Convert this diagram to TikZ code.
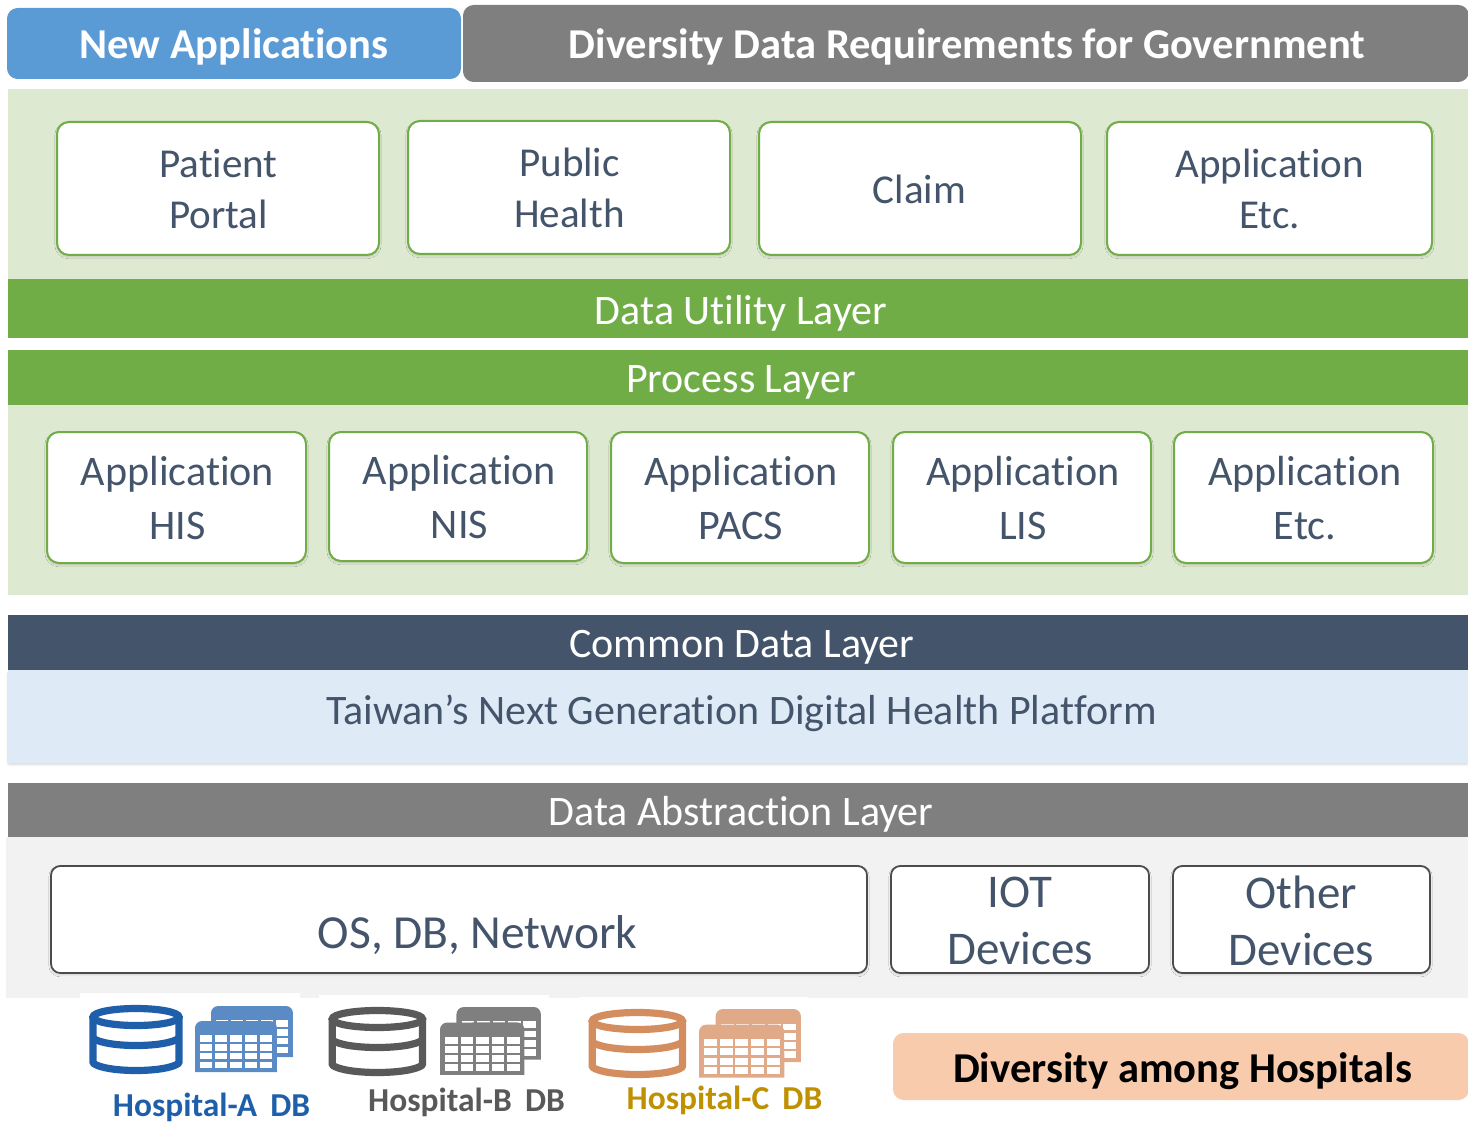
\documentclass[tikz,border=0pt]{standalone}
\usepackage{fontspec}
\setmainfont[Ligatures=NoCommon]{Carlito}
\usetikzlibrary{shadows.blur}

\definecolor{appblue}{HTML}{5B9BD5}
\definecolor{headgray}{HTML}{7F7F7F}
\definecolor{palegreen}{HTML}{DEE9D2}
\definecolor{layergreen}{HTML}{70AD47}
\definecolor{slate}{HTML}{44546A}
\definecolor{paleblue}{HTML}{DEEAF6}
\definecolor{palegray}{HTML}{F2F2F2}
\definecolor{peach}{HTML}{F8CBAD}
\definecolor{blueA}{HTML}{1F5FAA}
\definecolor{tableA}{HTML}{5B8BC4}
\definecolor{grayB}{HTML}{595959}
\definecolor{tableB}{HTML}{7F7F7F}
\definecolor{orangeC}{HTML}{D38D5F}
\definecolor{tableC}{HTML}{E0A987}
\definecolor{goldC}{HTML}{BF9000}

\tikzset{
	softshadow/.style={blur shadow={shadow xshift=0pt, shadow yshift=-1.2pt, shadow blur radius=1.6pt, shadow blur extra rounding=1pt, shadow blur steps=12, shadow opacity=16}},
	greenbox/.style={draw=layergreen, line width=1.5pt, fill=white, rounded corners=9pt, softshadow},
	darkbox/.style={draw=black!70, line width=1.3pt, fill=white, rounded corners=7pt, softshadow},
	headtext/.style={font=\bfseries\fontsize{31.9}{38}\selectfont},
	bandtext/.style={text=white, font=\fontsize{31.5}{38}\selectfont},
	boxtext/.style={text=slate, align=center, font=\fontsize{#1}{#1}\selectfont},
	boxtext/.default=30.8,
	dbtext/.style={font=\bfseries\fontsize{25.1}{30}\selectfont},
	pics/dbicon/.style={code={
		\draw[#1, line width=5.4pt, line join=round] (4,12) -- (4,59)
			.. controls (16,69) and (78,69) .. (90,59) -- (90,12);
		\draw[#1, line width=5.4pt] (47,13) ellipse (43 and 8.5);
		\draw[#1, line width=5.4pt] (4,34) .. controls (16,44) and (78,44) .. (90,34);
	}},
	pics/tableicon/.style={code={
		\foreach \ox/\oy in {16/0, 0/15} {
			\begin{scope}[shift={(\ox,\oy)}]
				\fill[#1] (0,51) -- (0,7) arc[start angle=180, end angle=90, radius=5.2pt]
					-- (75,0) arc[start angle=90, end angle=0, radius=5.2pt] -- (82,51) -- cycle;
				\foreach \c in {0,...,4}
					\foreach \r in {0,...,3}
						\fill[white] (5+\c*15,14+\r*8.9) rectangle ++(12.4,6.6);
			\end{scope}
		}
	}},
}

\begin{document}
\begin{tikzpicture}[x=0.75pt, y=-0.75pt]
	\useasboundingbox (0,0) rectangle (1468,1123);

	% header row
	\fill[appblue, rounded corners=8pt] (7,8) rectangle (461,79);
	\node[headtext, text=white] (newapps) at (234,47) {New Applications};
	\fill[headgray, rounded corners=8pt] (463,5) rectangle (1469,82);
	\node[headtext, text=white] (diversity) at (967,47) {Diversity Data Requirements for Government};

	% utility part
	\fill[palegreen] (8,89) rectangle (1468,279);
	\fill[layergreen] (8,279) rectangle (1468,338);
	\node[bandtext] (utility) at (741,313) {Data Utility Layer};
	\draw[greenbox] (57,122) rectangle (379,255);
	\node[boxtext] (patient) at (218.5,189) {Patient\\[7.4pt]Portal};
	\draw[greenbox] (408,121) rectangle (730,254);
	\node[boxtext] (public) at (569.5,188) {Public\\[7.4pt]Health};
	\draw[greenbox] (759,122) rectangle (1081,255);
	\node[boxtext] (claim) at (919.5,189) {Claim};
	\draw[greenbox] (1107,122) rectangle (1432,255);
	\node[boxtext] (appetcA) at (1269.5,189) {Application\\[7.4pt]Etc.};

	% process part
	\fill[layergreen] (8,350) rectangle (1468,405);
	\node[bandtext] (process) at (741,382) {Process Layer};
	\fill[palegreen] (8,405) rectangle (1468,595);
	\draw[greenbox] (47,432) rectangle (306,563);
	\node[boxtext=31.6] (his) at (177.5,498) {Application\\[9pt]HIS};
	\draw[greenbox] (329,432) rectangle (587,561);
	\node[boxtext=31.6] (nis) at (459.5,497) {Application\\[9pt]NIS};
	\draw[greenbox] (611,432) rectangle (869,563);
	\node[boxtext=31.6] (pacs) at (741,498) {Application\\[9pt]PACS};
	\draw[greenbox] (893,432) rectangle (1151,563);
	\node[boxtext=31.6] (lis) at (1023,498) {Application\\[9pt]LIS};
	\draw[greenbox] (1174,432) rectangle (1433,563);
	\node[boxtext=31.6] (appetcB) at (1305,498) {Application\\[9pt]Etc.};

	% common data layer
	\fill[paleblue, softshadow] (8,670) rectangle (1468,763);
	\fill[slate] (8,615) rectangle (1468,670);
	\node[bandtext] (common) at (742,647) {Common Data Layer};
	\node[boxtext=31.5] (platform) at (741.5,713) {Taiwan’s Next Generation Digital Health Platform};

	% abstraction layer
	\fill[palegray] (6,837) rectangle (1468,998);
	\fill[headgray] (8,783) rectangle (1468,837);
	\node[bandtext] (abstraction) at (741,814) {Data Abstraction Layer};
	\draw[darkbox] (51,866) rectangle (867,973);
	\node[boxtext=35.6] (osdb) at (477.5,935) {OS, DB, Network};
	\draw[darkbox] (891,866) rectangle (1149,973);
	\node[boxtext=35.2] (iot) at (1020,920.5) {IOT\\[7.6pt]Devices};
	\draw[darkbox] (1173,866) rectangle (1430,973);
	\node[boxtext=35.2] (other) at (1301.5,920.5) {Other\\[7.6pt]Devices};

	% hospitals
	\fill[white] (80,993) rectangle (300,1010);
	\fill[white] (319,995) rectangle (549,1010);
	\fill[white] (580,997) rectangle (808,1010);
	\pic at (89,1004) {dbicon=blueA};
	\pic at (195,1006) {tableicon=tableA};
	\node[dbtext, text=blueA] (hospA) at (211.5,1107) {Hospital-A\, DB};
	\pic[xscale=1.05] at (328,1006) {dbicon=grayB};
	\pic[scale=1.03] at (440,1007) {tableicon=tableB};
	\node[dbtext, text=grayB] (hospB) at (466.5,1102) {Hospital-B\, DB};
	\pic[xscale=1.05] at (588,1008) {dbicon=orangeC};
	\pic[scale=1.04] at (699,1009) {tableicon=tableC};
	\node[dbtext, text=goldC] (hospC) at (724.5,1100) {Hospital-C\, DB};

	\fill[peach, rounded corners=8pt] (893,1033) rectangle (1469,1100);
	\node[headtext] (amonghosp) at (1182.5,1071) {Diversity among Hospitals};
\end{tikzpicture}
\end{document}
